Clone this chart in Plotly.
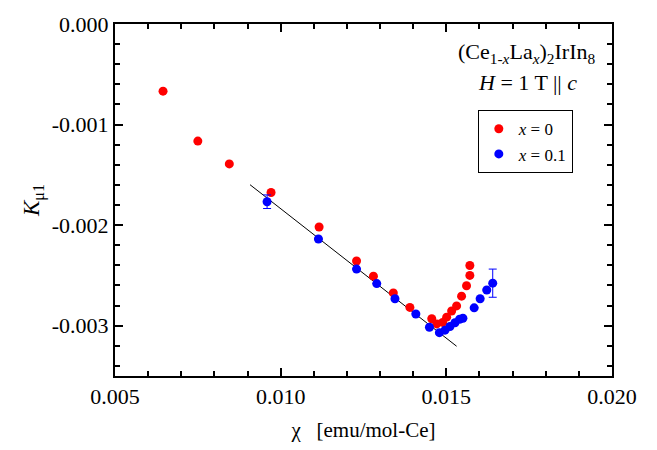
import plotly.graph_objects as go

# x = 0 (red)
chi_x0 = [0.00645, 0.00750, 0.00845, 0.00971, 0.01116, 0.01229, 0.01280, 0.01340, 0.01390,
          0.01456, 0.01471, 0.01489, 0.01501, 0.01516, 0.01531, 0.01546, 0.01561, 0.01571, 0.01571]
K_x0 = [-0.000668, -0.001164, -0.001391, -0.001675, -0.002018, -0.002356, -0.002507, -0.002674, -0.002818,
        -0.002931, -0.002982, -0.002967, -0.002915, -0.002854, -0.002803, -0.002706, -0.002603, -0.002500, -0.002401]

# x = 0.1 (blue)
chi_x01 = [0.00959, 0.01114, 0.01229, 0.01290, 0.01345, 0.01408, 0.01449, 0.01479, 0.01496,
           0.01511, 0.01526, 0.01540, 0.01550, 0.01584, 0.01602, 0.01622, 0.01640]
K_x01 = [-0.001767, -0.002138, -0.002437, -0.002581, -0.002732, -0.002883, -0.003015, -0.003069, -0.003044,
         -0.003008, -0.002970, -0.002936, -0.002926, -0.002822, -0.002732, -0.002645, -0.002577]
K_x01_err = [0.0000675, 0, 0, 0, 0, 0, 0, 0, 0, 0, 0, 0, 0, 0, 0, 0, 0.00014]

# linear fit line
fit_chi = [0.009075, 0.01531]
fit_K = [-0.001598, -0.003204]

x_tickvals = [0.005, 0.010, 0.015, 0.020]
x_ticktext = ["0.005", "0.010", "0.015", "0.020"]
y_tickvals = [0.000, -0.001, -0.002, -0.003]
y_ticktext = ["0.000", "-0.001", "-0.002", "-0.003"]

FONT = "Liberation Serif"

fig = go.Figure()
fig.add_trace(go.Scatter(x=fit_chi, y=fit_K, mode="lines", line=dict(color="black", width=1),
                         showlegend=False, hoverinfo="skip"))
fig.add_trace(go.Scatter(x=chi_x0, y=K_x0, mode="markers", name="<i>x</i> = 0",
                         marker=dict(color="#ff0000", size=9)))
fig.add_trace(go.Scatter(x=chi_x01, y=K_x01, mode="markers", name="<i>x</i> = 0.1",
                         marker=dict(color="#0000ff", size=9),
                         error_y=dict(type="data", array=K_x01_err, color="#0000ff", thickness=1, width=4)))

axis_common = dict(showline=True, linecolor="black", linewidth=2, mirror="allticks",
                   ticks="inside", ticklen=8, tickwidth=1.5, tickcolor="black",
                   showgrid=False, zeroline=False,
                   tickfont=dict(family=FONT, size=22, color="black"))

fig.update_xaxes(range=[0.005, 0.020], tickvals=x_tickvals, ticktext=x_ticktext,
                 minor=dict(dtick=0.001, ticks="inside", ticklen=5, tickwidth=1.5, tickcolor="black", showgrid=False),
                 title=dict(text="χ   [emu/mol-Ce]", font=dict(family=FONT, size=21, color="black"), standoff=14),
                 **axis_common)
fig.update_yaxes(range=[-0.0035, 0.0], tickvals=y_tickvals, ticktext=y_ticktext,
                 minor=dict(dtick=0.0002, tick0=0, ticks="inside", ticklen=5, tickwidth=1.5, tickcolor="black", showgrid=False),
                 title=dict(text="<i>K</i><sub>μ1</sub>", font=dict(family=FONT, size=23, color="black"), standoff=6),
                 **axis_common)

fig.add_annotation(xref="paper", yref="paper", x=0.829, y=0.918, showarrow=False,
                   text="(Ce<sub>1-<i>x</i></sub>La<sub><i>x</i></sub>)<sub>2</sub>IrIn<sub>8</sub>",
                   font=dict(family=FONT, size=22, color="black"), xanchor="center", yanchor="middle")
fig.add_annotation(xref="paper", yref="paper", x=0.829, y=0.835, showarrow=False,
                   text="<i>H</i> = 1 T || <i>c</i>",
                   font=dict(family=FONT, size=22, color="black"), xanchor="center", yanchor="middle")

fig.update_layout(width=657, height=450, margin=dict(l=115, r=45, t=15, b=72),
                  paper_bgcolor="white", plot_bgcolor="white",
                  legend=dict(x=0.730, y=0.755, xanchor="left", yanchor="top",
                              bordercolor="black", borderwidth=1, bgcolor="white",
                              font=dict(family=FONT, size=17, color="black"),
                              itemwidth=30, tracegroupgap=0),
                  font=dict(family=FONT, color="black"))

fig.write_html("out.html")
